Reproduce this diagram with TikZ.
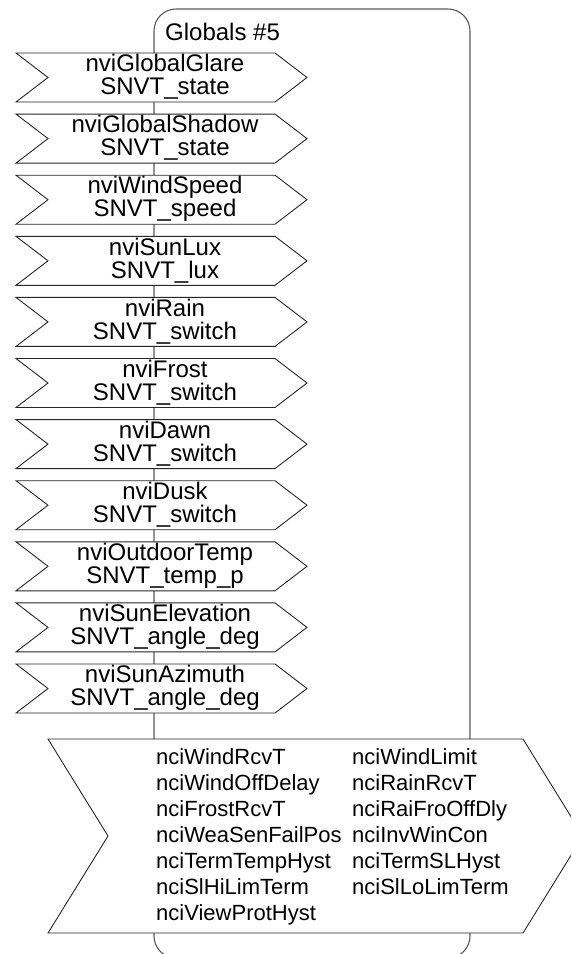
\documentclass[tikz,border=0pt]{standalone}
\usepackage{fontspec}
\setmainfont{Liberation Sans}
\begin{document}
\begin{tikzpicture}[x=1pt,y=-1pt,
  frame/.style={draw=black!65, line width=1.1pt},
  chev/.style={draw=black!85, line width=0.9pt, fill=white, line join=miter},
  lbl/.style={font=\fontsize{24}{23}\selectfont, align=center, inner sep=0pt},
  cfg/.style={font=\fontsize{22}{26}\selectfont, inner sep=0pt, anchor=base west}]
\useasboundingbox (0,0) rectangle (571,954);
\clip (0,0) rectangle (571,954);
\draw[frame, rounded corners=22pt] (154,9) rectangle (470,958);
\node[anchor=base west, inner sep=0pt, font=\fontsize{24}{24}\selectfont] (title) at (165,40) {Globals \#5};
\foreach \n/\t [count=\i from 0] in {nviGlobalGlare/SNVT\_state, nviGlobalShadow/SNVT\_state, nviWindSpeed/SNVT\_speed, nviSunLux/SNVT\_lux, nviRain/SNVT\_switch, nviFrost/SNVT\_switch, nviDawn/SNVT\_switch, nviDusk/SNVT\_switch, nviOutdoorTemp/SNVT\_temp\_p, nviSunElevation/SNVT\_angle\_deg, nviSunAzimuth/SNVT\_angle\_deg} {
  \pgfmathsetmacro{\ty}{53+61.1*\i}
  \draw[chev] (16,\ty) -- (275,\ty) -- (307,\ty+24.5) -- (275,\ty+49) -- (16,\ty+49) -- (48,\ty+24.5) -- cycle;
  \node[lbl] (nv\i) at (165,\ty+24) {\n\\\t};
}
\draw[chev] (48,739) -- (523,739) -- (583,836) -- (523,933) -- (48,933) -- (108,836) -- cycle;
\foreach \t [count=\i from 0] in {nciWindRcvT, nciWindOffDelay, nciFrostRcvT, nciWeaSenFailPos, nciTermTempHyst, nciSlHiLimTerm, nciViewProtHyst} {
  \node[cfg] (cl\i) at (156,764+26*\i) {\t};
}
\foreach \t [count=\i from 0] in {nciWindLimit, nciRainRcvT, nciRaiFroOffDly, nciInvWinCon, nciTermSLHyst, nciSlLoLimTerm} {
  \node[cfg] (cr\i) at (352,764+26*\i) {\t};
}
\end{tikzpicture}
\end{document}
